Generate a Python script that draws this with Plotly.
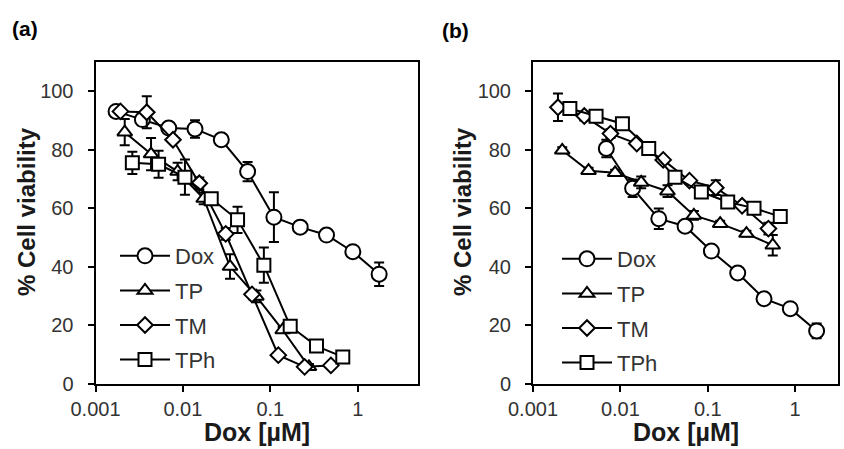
import plotly.graph_objects as go

# ---------------- data: panel (a) ----------------
a_dox_x = [0.00172, 0.00344, 0.00688, 0.01375, 0.0275, 0.055, 0.11, 0.22, 0.44, 0.88, 1.76]
a_dox_y = [93.1, 90.3, 87.4, 87.1, 83.4, 72.5, 56.9, 53.5, 50.8, 45.1, 37.4]
a_dox_e = [1.0, 2.0, 1.0, 3.0, 1.0, 3.3, 8.5, 1.0, 1.0, 1.0, 4.0]

a_tp_x = [0.00216, 0.00432, 0.0087, 0.0173, 0.0346, 0.0693, 0.1386, 0.277]
a_tp_y = [86.0, 78.5, 72.5, 63.3, 40.0, 29.8, 18.3, 5.7]
a_tp_e = [4.5, 5.5, 3.0, 2.0, 4.2, 2.0, 1.0, 1.0]

a_tm_x = [0.00193, 0.00386, 0.0077, 0.0154, 0.0309, 0.0617, 0.1235, 0.247, 0.494]
a_tm_y = [93.1, 92.8, 83.4, 68.5, 51.2, 30.5, 9.7, 5.7, 6.2]
a_tm_e = [1.0, 5.5, 1.0, 2.0, 2.0, 1.0, 1.0, 1.0, 1.0]

a_tph_x = [0.00264, 0.00527, 0.01055, 0.0211, 0.0422, 0.0844, 0.169, 0.338, 0.675]
a_tph_y = [75.5, 75.0, 70.6, 63.2, 56.0, 40.5, 19.6, 12.8, 9.1]
a_tph_e = [3.8, 4.6, 6.0, 1.5, 4.5, 6.0, 1.0, 1.0, 1.0]

# ---------------- data: panel (b) ----------------
b_dox_x = [0.0069, 0.0138, 0.0275, 0.055, 0.11, 0.22, 0.44, 0.88, 1.76]
b_dox_y = [80.4, 66.8, 56.4, 53.8, 45.3, 37.8, 29.0, 25.6, 18.0]
b_dox_e = [3.0, 3.0, 3.5, 1.0, 1.0, 1.0, 1.0, 1.0, 2.5]

b_tp_x = [0.00216, 0.00432, 0.0087, 0.0173, 0.0346, 0.0693, 0.1386, 0.277, 0.554]
b_tp_y = [79.8, 72.8, 72.1, 68.8, 65.8, 57.5, 54.7, 51.3, 47.3]
b_tp_e = [1.0, 1.0, 1.0, 2.0, 2.0, 1.5, 1.0, 1.0, 3.5]

b_tm_x = [0.00193, 0.00386, 0.0077, 0.0154, 0.0309, 0.0617, 0.1235, 0.247, 0.494]
b_tm_y = [94.5, 91.5, 85.5, 82.1, 76.5, 69.4, 67.0, 60.8, 53.0]
b_tm_e = [4.7, 1.5, 1.5, 1.0, 1.0, 1.0, 2.5, 1.0, 2.0]

b_tph_x = [0.00264, 0.00527, 0.01055, 0.0211, 0.0422, 0.0844, 0.169, 0.338, 0.675]
b_tph_y = [94.1, 91.4, 88.9, 80.4, 70.6, 65.5, 62.1, 60.0, 57.1]
b_tph_e = [1.0, 1.0, 1.0, 1.0, 1.0, 1.0, 1.0, 1.0, 1.0]

series_names = ["Dox", "TP", "TM", "TPh"]
x_tick_vals = [0.001, 0.01, 0.1, 1]
x_tick_text = ["0.001", "0.01", "0.1", "1"]
y_tick_vals = [0, 20, 40, 60, 80, 100]
x_title = "Dox [µM]"
y_title = "% Cell viability"
panel_labels = ["(a)", "(b)"]

symbols = {"Dox": ("circle", 15), "TP": ("triangle-up", 13), "TM": ("diamond", 12), "TPh": ("square", 13)}

panels = [
    {"Dox": (a_dox_x, a_dox_y, a_dox_e), "TP": (a_tp_x, a_tp_y, a_tp_e),
     "TM": (a_tm_x, a_tm_y, a_tm_e), "TPh": (a_tph_x, a_tph_y, a_tph_e)},
    {"Dox": (b_dox_x, b_dox_y, b_dox_e), "TP": (b_tp_x, b_tp_y, b_tp_e),
     "TM": (b_tm_x, b_tm_y, b_tm_e), "TPh": (b_tph_x, b_tph_y, b_tph_e)},
]

FONT = "Liberation Sans, Arial, sans-serif"
W, H = 844, 449

fig = go.Figure()
for i, pdata in enumerate(panels):
    xa = "x" if i == 0 else "x2"
    ya = "y" if i == 0 else "y2"
    lg = "legend" if i == 0 else "legend2"
    for name in series_names:
        xs, ys, es = pdata[name]
        sym, sz = symbols[name]
        fig.add_trace(go.Scatter(
            x=xs, y=ys, name=name, xaxis=xa, yaxis=ya, legend=lg,
            legendgroup=f"{i}_{name}",
            mode="lines+markers",
            line=dict(color="black", width=2),
            marker=dict(symbol=sym, size=sz, color="white", line=dict(color="black", width=2)),
            error_y=dict(type="data", array=es, visible=True, color="black", thickness=2, width=5),
        ))

ydom = [1 - 383.5 / H, 1 - 62 / H]
dom_a = [95.5 / W, 418 / W]
dom_b = [533 / W, 838 / W]

xaxis_common = dict(type="log", tickvals=x_tick_vals, ticktext=x_tick_text,
                    showline=True, mirror=True, linecolor="black", linewidth=2,
                    ticks="outside", ticklen=6, tickwidth=2, tickcolor="black",
                    showgrid=False, zeroline=False, automargin=False,
                    tickfont=dict(family=FONT, size=20, color="#333333"))
yaxis_common = dict(range=[0, 110], tickvals=y_tick_vals,
                    showline=True, mirror=True, linecolor="black", linewidth=2,
                    ticks="outside", ticklen=6, tickwidth=2, tickcolor="black",
                    showgrid=False, zeroline=False, ticklabelstandoff=10, automargin=False,
                    tickfont=dict(family=FONT, size=20, color="#333333"))

legend_common = dict(xanchor="left", yanchor="top", itemwidth=50, tracegroupgap=3,
                     bgcolor="rgba(0,0,0,0)", font=dict(family=FONT, size=22, color="#333333"))

fig.update_layout(
    width=W, height=H, margin=dict(l=0, r=0, t=0, b=0, autoexpand=False),
    paper_bgcolor="white", plot_bgcolor="white",
    xaxis=dict(domain=dom_a, range=[-3, 0.69], anchor="y", **xaxis_common),
    yaxis=dict(domain=ydom, anchor="x", **yaxis_common),
    xaxis2=dict(domain=dom_b, range=[-3, 0.49], anchor="y2", **xaxis_common),
    yaxis2=dict(domain=ydom, anchor="x2", **yaxis_common),
    legend=dict(x=115 / W, y=1 - 235 / H, **legend_common),
    legend2=dict(x=557 / W, y=1 - 238 / H, **legend_common),
    showlegend=True,
)

annotations = [
    dict(text="<b>" + panel_labels[0] + "</b>", x=10 / W, y=1 - 28 / H),
    dict(text="<b>" + panel_labels[1] + "</b>", x=440 / W, y=1 - 31 / H),
]
for a in annotations:
    a.update(xref="paper", yref="paper", xanchor="left", yanchor="middle", showarrow=False,
             font=dict(family=FONT, size=21, color="black"))
fig.update_layout(annotations=annotations)

for cx, tx in [(26, 256.5), (462, 685.5)]:
    fig.add_annotation(text="<b>" + y_title + "</b>", x=cx / W, y=1 - 212 / H, xref="paper", yref="paper",
                       textangle=-90, showarrow=False, xanchor="center", yanchor="middle",
                       font=dict(family=FONT, size=24, color="#1a1a1a"))
    fig.add_annotation(text="<b>" + x_title + "</b>", x=tx / W, y=1 - 432 / H, xref="paper", yref="paper",
                       showarrow=False, xanchor="center", yanchor="middle",
                       font=dict(family=FONT, size=25, color="#1a1a1a"))

fig.write_html("out.html")
